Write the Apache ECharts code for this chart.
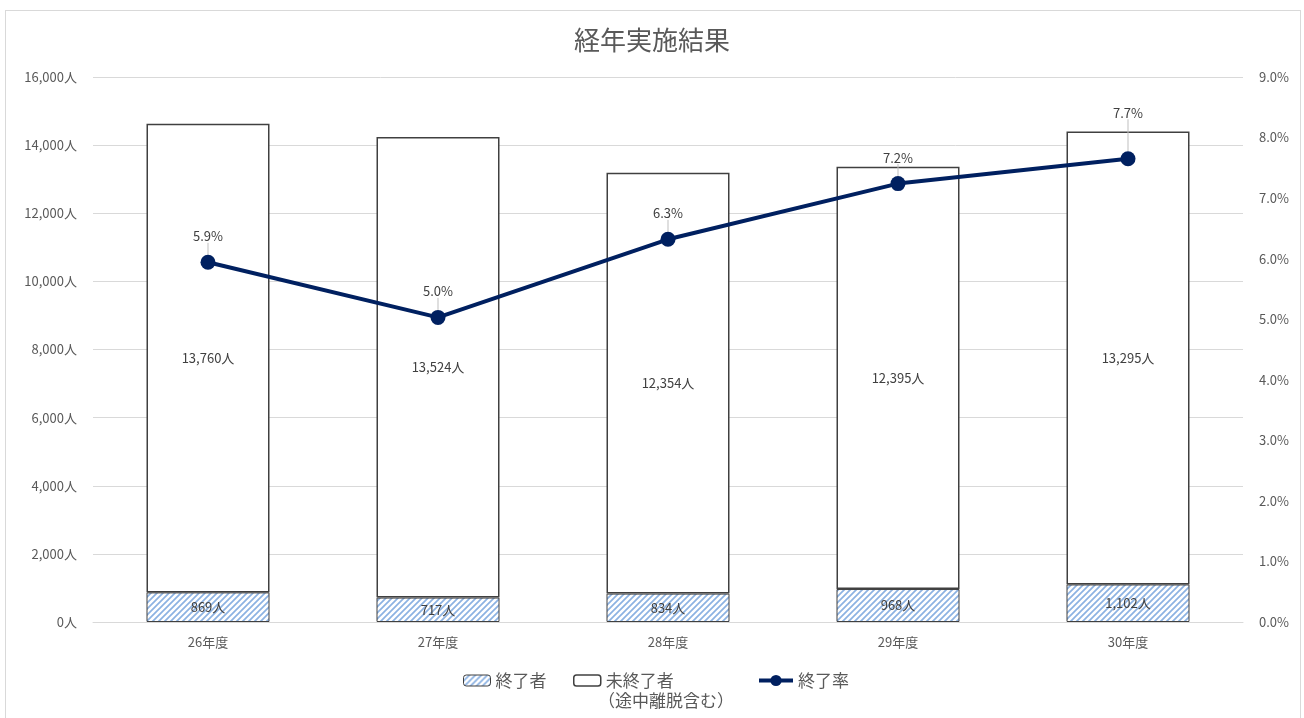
<!DOCTYPE html>
<html><head><meta charset="utf-8">
<script src="https://cdn.jsdelivr.net/npm/echarts@6/dist/echarts.min.js"></script>
<style>
html,body{margin:0;padding:0;background:#fff;overflow:hidden;}
#frame{position:absolute;left:5px;top:10px;width:1294px;height:730px;border:1px solid #d9d9d9;}
#main{position:absolute;left:0;top:0;width:1304px;height:718px;}
</style></head>
<body><div id="frame"></div><div id="main"></div>
<script>
const categories = ['26年度','27年度','28年度','29年度','30年度'];
const completed = [869, 717, 834, 968, 1102];
const notCompleted = [13760, 13524, 12354, 12395, 13295];
const rate = [5.94, 5.03, 6.32, 7.24, 7.65];
const leftTicks = {min:0, max:16000, interval:2000};
const rightTicks = {min:0, max:9, interval:1};

function makePattern(){
  const c = document.createElement('canvas');
  c.width = 6; c.height = 6;
  const g = c.getContext('2d');
  g.fillStyle = '#ffffff'; g.fillRect(0,0,6,6);
  g.strokeStyle = '#8cb2e2'; g.lineWidth = 1.7;
  g.beginPath();
  g.moveTo(-1,7); g.lineTo(7,-1);
  g.moveTo(-4,4); g.lineTo(4,-4);
  g.moveTo(2,10); g.lineTo(10,2);
  g.stroke();
  return c;
}
const pat = {image: makePattern(), repeat: 'repeat'};
const font = '"Noto Sans CJK JP", "Noto Sans", sans-serif';
const fmt = v => v.toLocaleString('en-US');
const legendText = {fontSize:17, color:'#595959', fontFamily:font};

const chart = echarts.init(document.getElementById('main'));
chart.setOption({
  animation:false,
  textStyle:{fontFamily:font},
  title:{text:'経年実施結果', left:'center', top:22, textStyle:{fontSize:26, fontWeight:'normal', color:'#595959', fontFamily:font}},
  grid:{left:93, right:61, top:77, bottom:96},
  legend:[
    {top:667, left:458, itemWidth:27, itemHeight:11, itemGap:4, textStyle:legendText,
     data:[{name:'終了者', itemStyle:{color:pat, borderColor:'#404040', borderWidth:1}}]},
    {top:667, left:568, itemWidth:27, itemHeight:11, itemGap:4, textStyle:legendText,
     data:[{name:'未終了者', itemStyle:{color:'#fff', borderColor:'#404040', borderWidth:1.5}}]},
    {top:667, left:752, itemWidth:34, itemHeight:14, itemGap:4, textStyle:legendText,
     data:[{name:'終了率', lineStyle:{width:4, color:'#002060'}}]}
  ],
  graphic:[{type:'text', left:598, top:692, style:{text:'（途中離脱含む）', fill:'#595959', font:'17px "Noto Sans CJK JP", sans-serif'}}],
  xAxis:{type:'category', data:categories,
    axisLine:{lineStyle:{color:'#d9d9d9'}}, axisTick:{show:false},
    axisLabel:{color:'#595959', fontSize:13, margin:14}},
  yAxis:[
    {type:'value', min:leftTicks.min, max:leftTicks.max, interval:leftTicks.interval,
     axisLabel:{color:'#595959', fontSize:13, margin:16, formatter:v=>fmt(v)+'人'},
     splitLine:{lineStyle:{color:'#d9d9d9'}}, axisLine:{show:false}, axisTick:{show:false}},
    {type:'value', min:rightTicks.min, max:rightTicks.max, interval:rightTicks.interval,
     axisLabel:{color:'#595959', fontSize:13, margin:16, formatter:v=>v.toFixed(1)+'%'},
     splitLine:{show:false}, axisLine:{show:false}, axisTick:{show:false}}
  ],
  series:[
    {name:'終了者', type:'bar', stack:'a', data:completed, barWidth:123,
     itemStyle:{color:pat, borderColor:'#404040', borderWidth:1},
     label:{show:true, position:'inside', color:'#404040', fontSize:13, formatter:p=>fmt(p.value)+'人'}},
    {name:'未終了者', type:'bar', stack:'a', data:notCompleted, barWidth:123,
     itemStyle:{color:'#fff', borderColor:'#404040', borderWidth:1.5},
     label:{show:true, position:'inside', color:'#404040', fontSize:13, formatter:p=>fmt(p.value)+'人'}},
    {name:'終了率', type:'line', yAxisIndex:1, data:rate, symbol:'circle', symbolSize:15,
     lineStyle:{color:'#002060', width:4}, itemStyle:{color:'#002060'},
     label:{show:true, position:'top', distance:12, color:'#404040', fontSize:13, formatter:p=>p.value.toFixed(1)+'%'},
     labelLine:{show:true, lineStyle:{color:'#bfbfbf', width:1}},
     labelLayout:function(p){ if(p.dataIndex===4) return {dy:-20}; return {}; }}
  ]
});
</script></body></html>
